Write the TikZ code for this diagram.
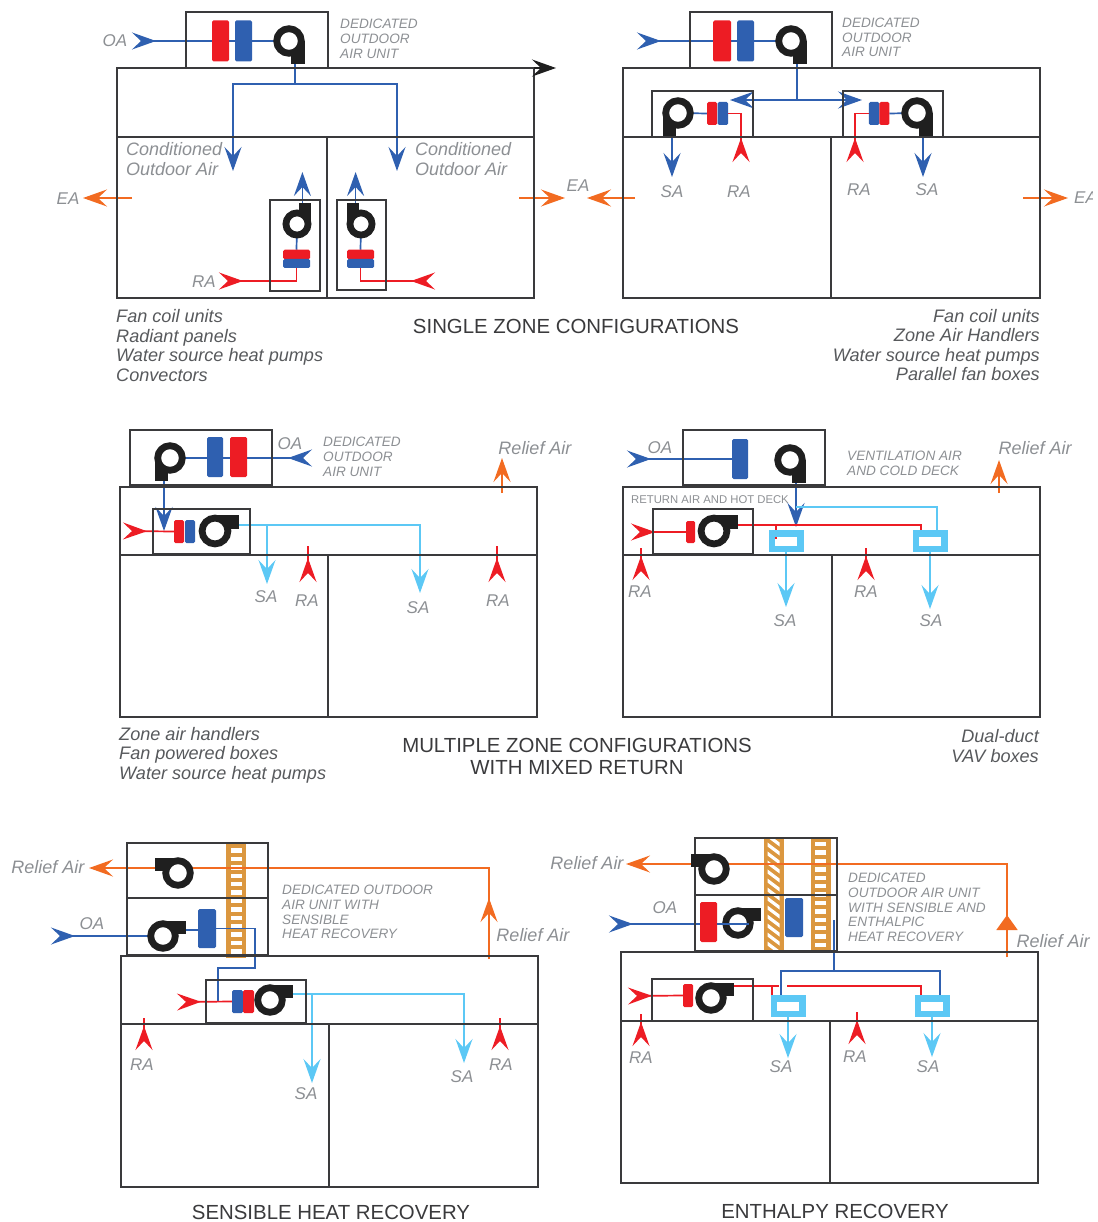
\documentclass[tikz,border=0pt]{standalone}
\usepackage{fontspec}
\setmainfont{Liberation Sans}
\usetikzlibrary{arrows.meta,backgrounds}
\definecolor{wall-gray}{HTML}{3A3A3C}
\definecolor{label-gray}{HTML}{8C8F93}
\definecolor{list-gray}{HTML}{57595C}
\definecolor{air-red}{HTML}{ED1C24}
\definecolor{air-blue}{HTML}{2F60B0}
\definecolor{air-cyan}{HTML}{5CC8F5}
\definecolor{air-orange}{HTML}{F26B21}
\definecolor{wheel-tan}{HTML}{DB973F}
\tikzset{
  duct-wall/.style={draw=wall-gray, line width=1.7pt},
  room-box/.style={duct-wall, anchor=north west, inner sep=0pt, outer sep=0pt},
  unit-box/.style={draw=wall-gray, line width=1.5pt, anchor=north west, inner sep=0pt, outer sep=0pt},
  coil-red/.style={fill=air-red, rounded corners=1.5pt, inner sep=0pt, outer sep=0pt},
  coil-blue/.style={fill=air-blue, rounded corners=1.5pt, inner sep=0pt, outer sep=0pt},
  mix-box/.style={draw=air-cyan, line width=6.5pt, inner sep=0pt, outer sep=0pt,
    minimum width=28.5, minimum height=15.5},
  flow-blue/.style={draw=air-blue, line width=1.7pt},
  flow-red/.style={draw=air-red, line width=1.7pt},
  flow-cyan/.style={draw=air-cyan, line width=1.7pt},
  flow-orange/.style={draw=air-orange, line width=1.9pt},
  unit-label/.style={text=label-gray, align=left, anchor=west, inner sep=0pt,
    font=\fontsize{13.6}{14.7}\selectfont\itshape},
  air-label/.style={text=label-gray, inner sep=0pt, font=\fontsize{17}{19}\selectfont\itshape},
  room-label/.style={text=label-gray, align=left, anchor=west, inner sep=0pt,
    font=\fontsize{18}{20}\selectfont\itshape},
  list-label/.style={text=list-gray, inner sep=0pt, font=\fontsize{18.1}{19.6}\selectfont\itshape},
  title-label/.style={text=wall-gray, align=center, inner sep=0pt, font=\fontsize{20.4}{22}\selectfont},
  fan/.pic={
    \fill[black!88] (0,-15.5) rectangle (23,-2);
    \draw[black!88, fill=white, line width=6.8pt] (0,0) circle[radius=12.3];
    \coordinate (-c) at (0,0);
    \coordinate (-out) at (23,-6);
  },
  wheel-ladder/.pic={
    \fill[wheel-tan] (-10,-57) rectangle (10,57);
    \foreach \r in {-6,...,6}
      \fill[white] (-5.5,\r*8.4-2.2) rectangle (5.5,\r*8.4+2.2);
  },
  wheel-hatch/.pic={
    \fill[wheel-tan] (-10,-57) rectangle (10,57);
    \begin{scope}
      \clip (-6,-55) rectangle (6,55);
      \foreach \r in {-7,...,7}
        \draw[white, line width=3.2pt] (-8,\r*9-6) -- (8,\r*9+6);
    \end{scope}
  }
}

\begin{document}
\begin{tikzpicture}[x=1pt, y=-1pt, >={Stealth[length=24pt,width=17pt,inset=9pt]}]
  \useasboundingbox (0,0) rectangle (1097,1222);

  \node[room-box, minimum width=417, minimum height=230] (a-room) at (117,68) {};
  \node[unit-box, minimum width=142, minimum height=56] (a-unit) at (186,12) {};
  \node[unit-box, minimum width=50, minimum height=91] (a-zone1) at (270,200) {};
  \node[unit-box, minimum width=49, minimum height=90] (a-zone2) at (337,200) {};
  \node[coil-red, minimum width=17, minimum height=41] (a-red) at (220.5,41) {};
  \node[coil-blue, minimum width=17, minimum height=41] (a-blue) at (243.5,41) {};
  \node[coil-red, minimum width=27, minimum height=9.5] (a-red1) at (296.5,254.5) {};
  \node[coil-blue, minimum width=27, minimum height=9] (a-blue1) at (296.5,263.5) {};
  \node[coil-red, minimum width=27, minimum height=9.5] (a-red2) at (360.5,254.5) {};
  \node[coil-blue, minimum width=27, minimum height=9] (a-blue2) at (360.5,263.5) {};
  \pic (a-fan) [rotate=-90] at (289,41) {fan};
  \pic (a-fan1) [scale=.9, yscale=-1, rotate=-90] at (297,224) {fan};
  \pic (a-fan2) [scale=.9, rotate=90] at (361,224) {fan};
  \coordinate (a-mid) at (327,137);
  \coordinate (a-over) at (556,68);
  \coordinate (a-oa) at (132,41);
  \coordinate (a-split-l) at (233,84);
  \coordinate (a-split-r) at (397,84);
  \coordinate (a-tip-l) at (233,171);
  \coordinate (a-tip-r) at (397,171);
  \coordinate (a-up) at (300,172);
  \coordinate (a-ra1) at (219,281);
  \coordinate (a-ra2) at (435,281);
  \coordinate (a-ea1) at (132,198);
  \coordinate (a-ea1-tip) at (83,198);
  \coordinate (a-ea2) at (519,198);
  \coordinate (a-ea2-tip) at (565,198);
  \draw[duct-wall] (a-room.west |- a-mid) -- (a-room.east |- a-mid) (a-mid) -- (a-mid |- a-room.south);
  \draw[duct-wall, draw=black!88, ->] (a-room.north east) -- (a-over);
  \begin{scope}[on background layer]
    \draw[flow-blue, >-] (a-oa) -- (a-fan-c);
    \draw[flow-blue] (a-fan-out) -- (a-fan-out |- a-split-l);
    \draw[flow-blue, <->] (a-tip-l) |- (a-split-r) -- (a-tip-r);
    \draw[flow-blue, ->] (a-fan1-out) -- (a-fan1-out |- a-up);
    \draw[flow-blue, ->] (a-fan2-out) -- (a-fan2-out |- a-up);
    \draw[flow-blue] (a-fan1-c) -- (a-red1.north);
    \draw[flow-blue] (a-fan2-c) -- (a-red2.north);
    \draw[flow-red, >-] (a-ra1) -| (a-blue1.south);
    \draw[flow-red, >-] (a-ra2) -| (a-blue2.south);
    \draw[flow-orange, ->] (a-ea1) -- (a-ea1-tip);
    \draw[flow-orange, ->] (a-ea2) -- (a-ea2-tip);
  \end{scope}
  \node[air-label] (a-oa-text) at (115,41) {OA};
  \node[air-label] (a-ea1-text) at (68,199) {EA};
  \node[air-label] (a-ra-text) at (204,282) {RA};
  \node[unit-label] (a-unit-text) at (340,39) {DEDICATED\\OUTDOOR\\AIR UNIT};
  \node[room-label] (a-cond1) at (126,159) {Conditioned\\Outdoor Air};
  \node[room-label] (a-cond2) at (415,159) {Conditioned\\Outdoor Air};
  \node[list-label, align=left, anchor=west] (a-list) at (116,345.5) {Fan coil units\\Radiant panels\\Water source heat pumps\\Convectors};
  \node[title-label] (a-title) at (576,326) {SINGLE ZONE CONFIGURATIONS};

  \node[room-box, minimum width=417, minimum height=230] (b-room) at (623,68) {};
  \node[unit-box, minimum width=142, minimum height=56] (b-unit) at (690,12) {};
  \node[unit-box, minimum width=101, minimum height=46] (b-zone1) at (652,91) {};
  \node[unit-box, minimum width=100, minimum height=46] (b-zone2) at (843,91) {};
  \node[coil-red, minimum width=18, minimum height=41] (b-red) at (722,41) {};
  \node[coil-blue, minimum width=17, minimum height=41] (b-blue) at (745.5,41) {};
  \node[coil-red, minimum width=10, minimum height=23] (b-red1) at (712,113.5) {};
  \node[coil-blue, minimum width=10.5, minimum height=23] (b-blue1) at (722.75,113.5) {};
  \node[coil-blue, minimum width=10.5, minimum height=23] (b-blue2) at (874,113.5) {};
  \node[coil-red, minimum width=10, minimum height=23] (b-red2) at (884.25,113.5) {};
  \pic (b-fan) [rotate=-90] at (791,41) {fan};
  \pic (b-fan1) [xscale=-1, rotate=-90] at (678,113) {fan};
  \pic (b-fan2) [rotate=-90] at (917,113) {fan};
  \coordinate (b-mid) at (831,137);
  \coordinate (b-oa) at (637,41);
  \coordinate (b-tip-l) at (730,100);
  \coordinate (b-tip-r) at (862,100);
  \coordinate (b-sa1) at (672,177);
  \coordinate (b-sa2) at (923,177);
  \coordinate (b-ra1) at (741,162);
  \coordinate (b-ra2) at (855,162);
  \coordinate (b-ea1) at (635,198);
  \coordinate (b-ea1-tip) at (587,198);
  \coordinate (b-ea2) at (1023,198);
  \coordinate (b-ea2-tip) at (1068,198);
  \draw[duct-wall] (b-room.west |- b-mid) -- (b-room.east |- b-mid) (b-mid) -- (b-mid |- b-room.south);
  \begin{scope}[on background layer]
    \draw[flow-blue, >-] (b-oa) -- (b-fan-c);
    \draw[flow-blue] (b-fan-out) -- (b-fan-out |- b-tip-l);
    \draw[flow-blue, <->] (b-tip-l) -- (b-tip-r);
    \draw[flow-blue] (b-fan1-c) -- (b-red1.west);
    \draw[flow-blue] (b-fan2-c) -- (b-red2.east);
    \draw[flow-blue, ->] (b-fan1-out) -- (b-sa1);
    \draw[flow-blue, ->] (b-fan2-out) -- (b-sa2);
    \draw[flow-red, >-] (b-ra1) |- (b-blue1.east);
    \draw[flow-red, >-] (b-ra2) |- (b-blue2.west);
    \draw[flow-orange, ->] (b-ea1) -- (b-ea1-tip);
    \draw[flow-orange, ->] (b-ea2) -- (b-ea2-tip);
  \end{scope}
  \node[air-label] (b-sa1-text) at (672,192) {SA};
  \node[air-label] (b-ra1-text) at (739,192) {RA};
  \node[air-label] (b-ra2-text) at (859,190) {RA};
  \node[air-label] (b-sa2-text) at (927,190) {SA};
  \node[air-label] (b-ea1-text) at (578,186) {EA};
  \begin{scope}
    \clip (1060,180) rectangle (1092,215);
    \node[air-label, anchor=west] (b-ea2-text) at (1074,198) {EA};
  \end{scope}
  \node[unit-label] (b-unit-text) at (842,37.5) {DEDICATED\\OUTDOOR\\AIR UNIT};
  \node[list-label, align=right, anchor=east] (b-list) at (1040,345) {Fan coil units\\Zone Air Handlers\\Water source heat pumps\\Parallel fan boxes};

  \node[room-box, minimum width=417, minimum height=230] (c-room) at (120,487) {};
  \node[unit-box, minimum width=142, minimum height=55] (c-unit) at (130,430) {};
  \node[unit-box, minimum width=97, minimum height=45] (c-zone) at (153,509) {};
  \node[coil-blue, minimum width=16, minimum height=40] (c-blue) at (215,457) {};
  \node[coil-red, minimum width=17, minimum height=40] (c-red) at (238.5,457) {};
  \node[coil-red, minimum width=10, minimum height=23] (c-red1) at (179,531.5) {};
  \node[coil-blue, minimum width=10, minimum height=23] (c-blue1) at (190,531.5) {};
  \pic (c-fan) [xscale=-1, rotate=-90] at (170,458) {fan};
  \pic (c-fan1) [scale=1.05] at (215,531) {fan};
  \coordinate (c-mid) at (328,555);
  \coordinate (c-oa) at (312,458);
  \coordinate (c-drop) at (164,531);
  \coordinate (c-ra) at (123,531);
  \coordinate (c-sa1) at (267,584);
  \coordinate (c-sa2) at (420,593);
  \coordinate (c-ret1) at (308,582);
  \coordinate (c-ret1-top) at (308,546);
  \coordinate (c-ret2) at (497,582);
  \coordinate (c-ret2-top) at (497,546);
  \coordinate (c-rel) at (502,493);
  \coordinate (c-rel-tip) at (502,458);
  \draw[duct-wall] (c-room.west |- c-mid) -- (c-room.east |- c-mid) (c-mid) -- (c-mid |- c-room.south);
  \begin{scope}[on background layer]
    \draw[flow-blue, >-] (c-oa) -- (c-fan-c);
    \draw[flow-blue, ->] (c-fan-out) -- (c-drop);
    \draw[flow-red, >-] (c-ra) -- (c-red1.west);
    \draw[flow-cyan, ->] (c-fan1-out) -| (c-sa2);
    \draw[flow-cyan, ->] (c-fan1-out -| c-sa1) -- (c-sa1);
    \draw[flow-red, >-] (c-ret1) -- (c-ret1-top);
    \draw[flow-red, >-] (c-ret2) -- (c-ret2-top);
    \draw[flow-orange, ->] (c-rel) -- (c-rel-tip);
  \end{scope}
  \node[air-label] (c-oa-text) at (290,444) {OA};
  \node[air-label] (c-sa1-text) at (266,597) {SA};
  \node[air-label] (c-ra1-text) at (307,601) {RA};
  \node[air-label] (c-sa2-text) at (418,608) {SA};
  \node[air-label] (c-ra2-text) at (498,601) {RA};
  \node[air-label, font=\fontsize{18}{20}\selectfont\itshape] (c-rel-text) at (535,448) {Relief Air};
  \node[unit-label] (c-unit-text) at (323,457) {DEDICATED\\OUTDOOR\\AIR UNIT};
  \node[list-label, align=left, anchor=west] (c-list) at (119,755) {Zone air handlers\\Fan powered boxes\\Water source heat pumps};
  \node[title-label] (c-title) at (577,756) {MULTIPLE ZONE CONFIGURATIONS\\WITH MIXED RETURN};

  \node[room-box, minimum width=417, minimum height=230] (d-room) at (623,487) {};
  \node[unit-box, minimum width=142, minimum height=55] (d-unit) at (683,430) {};
  \node[unit-box, minimum width=100, minimum height=45] (d-zone) at (653,509) {};
  \node[coil-blue, minimum width=16, minimum height=40] (d-blue) at (740,459) {};
  \node[coil-red, minimum width=9, minimum height=22] (d-red) at (690.5,532) {};
  \node[mix-box] (d-box1) at (786,541) {};
  \node[mix-box] (d-box2) at (930,541) {};
  \pic (d-fan) [rotate=-90] at (790,460) {fan};
  \pic (d-fan1) [scale=1.05] at (714,531) {fan};
  \coordinate (d-mid) at (832,555);
  \coordinate (d-oa) at (627,459);
  \coordinate (d-drop) at (796,527);
  \coordinate (d-ra) at (631,532);
  \coordinate (d-cold1) at (796,507);
  \coordinate (d-cold2) at (937,533);
  \coordinate (d-hot1) at (776,539);
  \coordinate (d-hot2) at (921,535);
  \coordinate (d-sa1) at (786,607);
  \coordinate (d-sa2) at (930,609);
  \coordinate (d-ret1) at (641,580);
  \coordinate (d-ret1-top) at (641,548);
  \coordinate (d-ret2) at (866,580);
  \coordinate (d-ret2-top) at (866,548);
  \coordinate (d-rel) at (999,493);
  \coordinate (d-rel-tip) at (999,460);
  \draw[duct-wall] (d-room.west |- d-mid) -- (d-room.east |- d-mid) (d-mid) -- (d-mid |- d-room.south);
  \begin{scope}[on background layer]
    \draw[flow-blue, >-] (d-oa) -- (d-blue.west);
    \draw[flow-blue, line width=2.2pt, ->] (d-fan-out) -- (d-drop);
    \draw[flow-red, >-] (d-ra) -- (d-red.west);
    \draw[flow-cyan] (d-cold1) -| (d-cold2);
    \draw[flow-red] (d-fan1-out) -| (d-hot2);
    \draw[flow-red] (d-hot1) -- (d-hot1 |- d-fan1-out);
    \draw[flow-cyan, ->] (d-box1.south) -- (d-sa1);
    \draw[flow-cyan, ->] (d-box2.south) -- (d-sa2);
    \draw[flow-red, >-] (d-ret1) -- (d-ret1-top);
    \draw[flow-red, >-] (d-ret2) -- (d-ret2-top);
    \draw[flow-orange, ->] (d-rel) -- (d-rel-tip);
  \end{scope}
  \node[air-label] (d-oa-text) at (660,448) {OA};
  \node[air-label] (d-ra1-text) at (640,592) {RA};
  \node[air-label] (d-sa1-text) at (785,621) {SA};
  \node[air-label] (d-ra2-text) at (866,592) {RA};
  \node[air-label] (d-sa2-text) at (931,621) {SA};
  \node[air-label, font=\fontsize{18}{20}\selectfont\itshape] (d-rel-text) at (1035,448) {Relief Air};
  \node[unit-label] (d-unit-text) at (847,463) {VENTILATION AIR\\AND COLD DECK};
  \node[unit-label, font=\fontsize{11.3}{13}\selectfont] (d-zone-text) at (631,500) {RETURN AIR AND HOT DECK};
  \node[list-label, align=right, anchor=east] (d-list) at (1039,746) {Dual-duct\\VAV boxes};

  \node[room-box, minimum width=417, minimum height=231] (e-room) at (121,956) {};
  \node[unit-box, minimum width=141, minimum height=55] (e-unit1) at (127,843) {};
  \node[unit-box, minimum width=141, minimum height=57] (e-unit2) at (127,898) {};
  \node[unit-box, minimum width=100, minimum height=43] (e-zone) at (206,980) {};
  \node[coil-blue, minimum width=18, minimum height=39] (e-blue) at (207,928.5) {};
  \node[coil-blue, minimum width=11, minimum height=23] (e-blue1) at (237.5,1001.5) {};
  \node[coil-red, minimum width=11, minimum height=23] (e-red1) at (248.5,1001.5) {};
  \pic (e-fan1) [xscale=-1] at (178,873) {fan};
  \pic (e-fan2) at (163,936) {fan};
  \pic (e-fan3) at (270,1000) {fan};
  \coordinate (e-mid) at (329,1024);
  \coordinate (e-rel) at (489,959);
  \coordinate (e-rel-mid) at (489,898);
  \coordinate (e-rel-tip) at (89,868);
  \coordinate (e-oa) at (51,936);
  \coordinate (e-turn) at (255,968);
  \coordinate (e-drop) at (218,1002);
  \coordinate (e-ra) at (177,1002);
  \coordinate (e-sa1) at (312,1083);
  \coordinate (e-sa2) at (464,1063);
  \coordinate (e-ret1) at (144,1050);
  \coordinate (e-ret1-top) at (144,1018);
  \coordinate (e-ret2) at (500,1050);
  \coordinate (e-ret2-top) at (500,1018);
  \draw[duct-wall] (e-room.west |- e-mid) -- (e-room.east |- e-mid) (e-mid) -- (e-mid |- e-room.south);
  \begin{scope}[on background layer]
    \pic (e-wheel) at (236,901) {wheel-ladder};
    \draw[flow-orange, ->] (e-rel) |- (e-rel-tip);
    \draw[flow-orange, ->] (e-rel) -- (e-rel-mid);
    \draw[flow-blue, >-] (e-oa) -- (e-fan2-c);
    \draw[flow-blue] (e-fan2-out) -- (e-fan2-out -| e-blue.west);
    \draw[flow-blue] (e-blue.east) -| (e-turn) -| (e-drop);
    \draw[flow-red, >-] (e-ra) -- (e-blue1.west);
    \draw[flow-cyan, ->] (e-fan3-out) -| (e-sa2);
    \draw[flow-cyan, ->] (e-fan3-out -| e-sa1) -- (e-sa1);
    \draw[flow-red, >-] (e-ret1) -- (e-ret1-top);
    \draw[flow-red, >-] (e-ret2) -- (e-ret2-top);
  \end{scope}
  \node[air-label, font=\fontsize{18}{20}\selectfont\itshape] (e-rel1-text) at (48,867) {Relief Air};
  \node[air-label, font=\fontsize{18}{20}\selectfont\itshape] (e-rel2-text) at (533,935) {Relief Air};
  \node[air-label] (e-oa-text) at (92,924) {OA};
  \node[air-label] (e-ra1-text) at (142,1065) {RA};
  \node[air-label] (e-sa1-text) at (306,1094) {SA};
  \node[air-label] (e-sa2-text) at (462,1077) {SA};
  \node[air-label] (e-ra2-text) at (501,1065) {RA};
  \node[unit-label] (e-unit-text) at (282,912) {DEDICATED OUTDOOR\\AIR UNIT WITH\\SENSIBLE\\HEAT RECOVERY};
  \node[title-label] (e-title) at (331,1212) {SENSIBLE HEAT RECOVERY};

  \node[room-box, minimum width=417, minimum height=231] (f-room) at (621,952) {};
  \node[unit-box, minimum width=142, minimum height=57] (f-unit1) at (695,838) {};
  \node[unit-box, minimum width=142, minimum height=56] (f-unit2) at (695,895) {};
  \node[unit-box, minimum width=101, minimum height=42] (f-zone) at (652,979) {};
  \node[coil-red, minimum width=17, minimum height=40] (f-red) at (708.5,922) {};
  \node[coil-blue, minimum width=18, minimum height=39] (f-blue) at (794,917.5) {};
  \node[coil-red, minimum width=10, minimum height=23] (f-red1) at (688,995.5) {};
  \node[mix-box] (f-box1) at (788,1006) {};
  \node[mix-box] (f-box2) at (932,1006) {};
  \pic (f-fan1) [xscale=-1] at (714,869) {fan};
  \pic (f-fan2) at (738,923) {fan};
  \pic (f-fan3) at (711,998) {fan};
  \coordinate (f-mid) at (830,1021);
  \coordinate (f-rel) at (1007,957);
  \coordinate (f-rel-mid) at (1007,915);
  \coordinate (f-rel-tip) at (626,864);
  \coordinate (f-oa) at (609,924);
  \coordinate (f-oa-end) at (749,924);
  \coordinate (f-vent) at (834,920);
  \coordinate (f-split) at (834,971);
  \coordinate (f-drop1) at (781,995);
  \coordinate (f-drop2) at (940,995);
  \coordinate (f-ra) at (628,996);
  \coordinate (f-hot-a) at (734,986);
  \coordinate (f-hot-b) at (779,986);
  \coordinate (f-hot-c) at (787,986);
  \coordinate (f-hot-d) at (921,995);
  \coordinate (f-hot-e) at (772,995);
  \coordinate (f-sa1) at (788,1058);
  \coordinate (f-sa2) at (932,1057);
  \coordinate (f-ret1) at (641,1046);
  \coordinate (f-ret1-top) at (641,1014);
  \coordinate (f-ret2) at (857,1044);
  \coordinate (f-ret2-top) at (857,1012);
  \draw[duct-wall] (f-room.west |- f-mid) -- (f-room.east |- f-mid) (f-mid) -- (f-mid |- f-room.south);
  \draw[flow-blue] (f-red.east |- f-oa) -- (f-oa-end);
  \begin{scope}[on background layer]
    \pic (f-wheel1) at (773.5,894) {wheel-hatch};
    \pic (f-wheel2) at (820.5,894.5) {wheel-ladder};
    \draw[flow-orange, ->] (f-rel) |- (f-rel-tip);
    \draw[flow-orange, -{Triangle[length=15pt,width=21pt]}] (f-rel) -- (f-rel-mid);
    \draw[flow-blue, >-] (f-oa) -- (f-red.west |- f-oa);
    \draw[flow-blue] (f-vent) -- (f-split);
    \draw[flow-blue] (f-drop1) |- (f-split) -| (f-drop2);
    \draw[flow-red, >-] (f-ra) -- (f-red1.west);
    \draw[flow-red] (f-hot-a) -- (f-hot-b);
    \draw[flow-red] (f-hot-c) -| (f-hot-d);
    \draw[flow-red] (f-hot-e) -- (f-hot-e |- f-hot-a);
    \draw[flow-cyan, ->] (f-box1.south) -- (f-sa1);
    \draw[flow-cyan, ->] (f-box2.south) -- (f-sa2);
    \draw[flow-red, >-] (f-ret1) -- (f-ret1-top);
    \draw[flow-red, >-] (f-ret2) -- (f-ret2-top);
  \end{scope}
  \node[air-label, font=\fontsize{18}{20}\selectfont\itshape] (f-rel1-text) at (587,863) {Relief Air};
  \node[air-label, font=\fontsize{18}{20}\selectfont\itshape] (f-rel2-text) at (1053,941) {Relief Air};
  \node[air-label] (f-oa-text) at (665,908) {OA};
  \node[air-label] (f-ra1-text) at (641,1058) {RA};
  \node[air-label] (f-sa1-text) at (781,1067) {SA};
  \node[air-label] (f-ra2-text) at (855,1057) {RA};
  \node[air-label] (f-sa2-text) at (928,1067) {SA};
  \node[unit-label] (f-unit-text) at (848,907.5) {DEDICATED\\OUTDOOR AIR UNIT\\WITH SENSIBLE AND\\ENTHALPIC\\HEAT RECOVERY};
  \node[title-label] (f-title) at (835,1211) {ENTHALPY RECOVERY};
\end{tikzpicture}
\end{document}
